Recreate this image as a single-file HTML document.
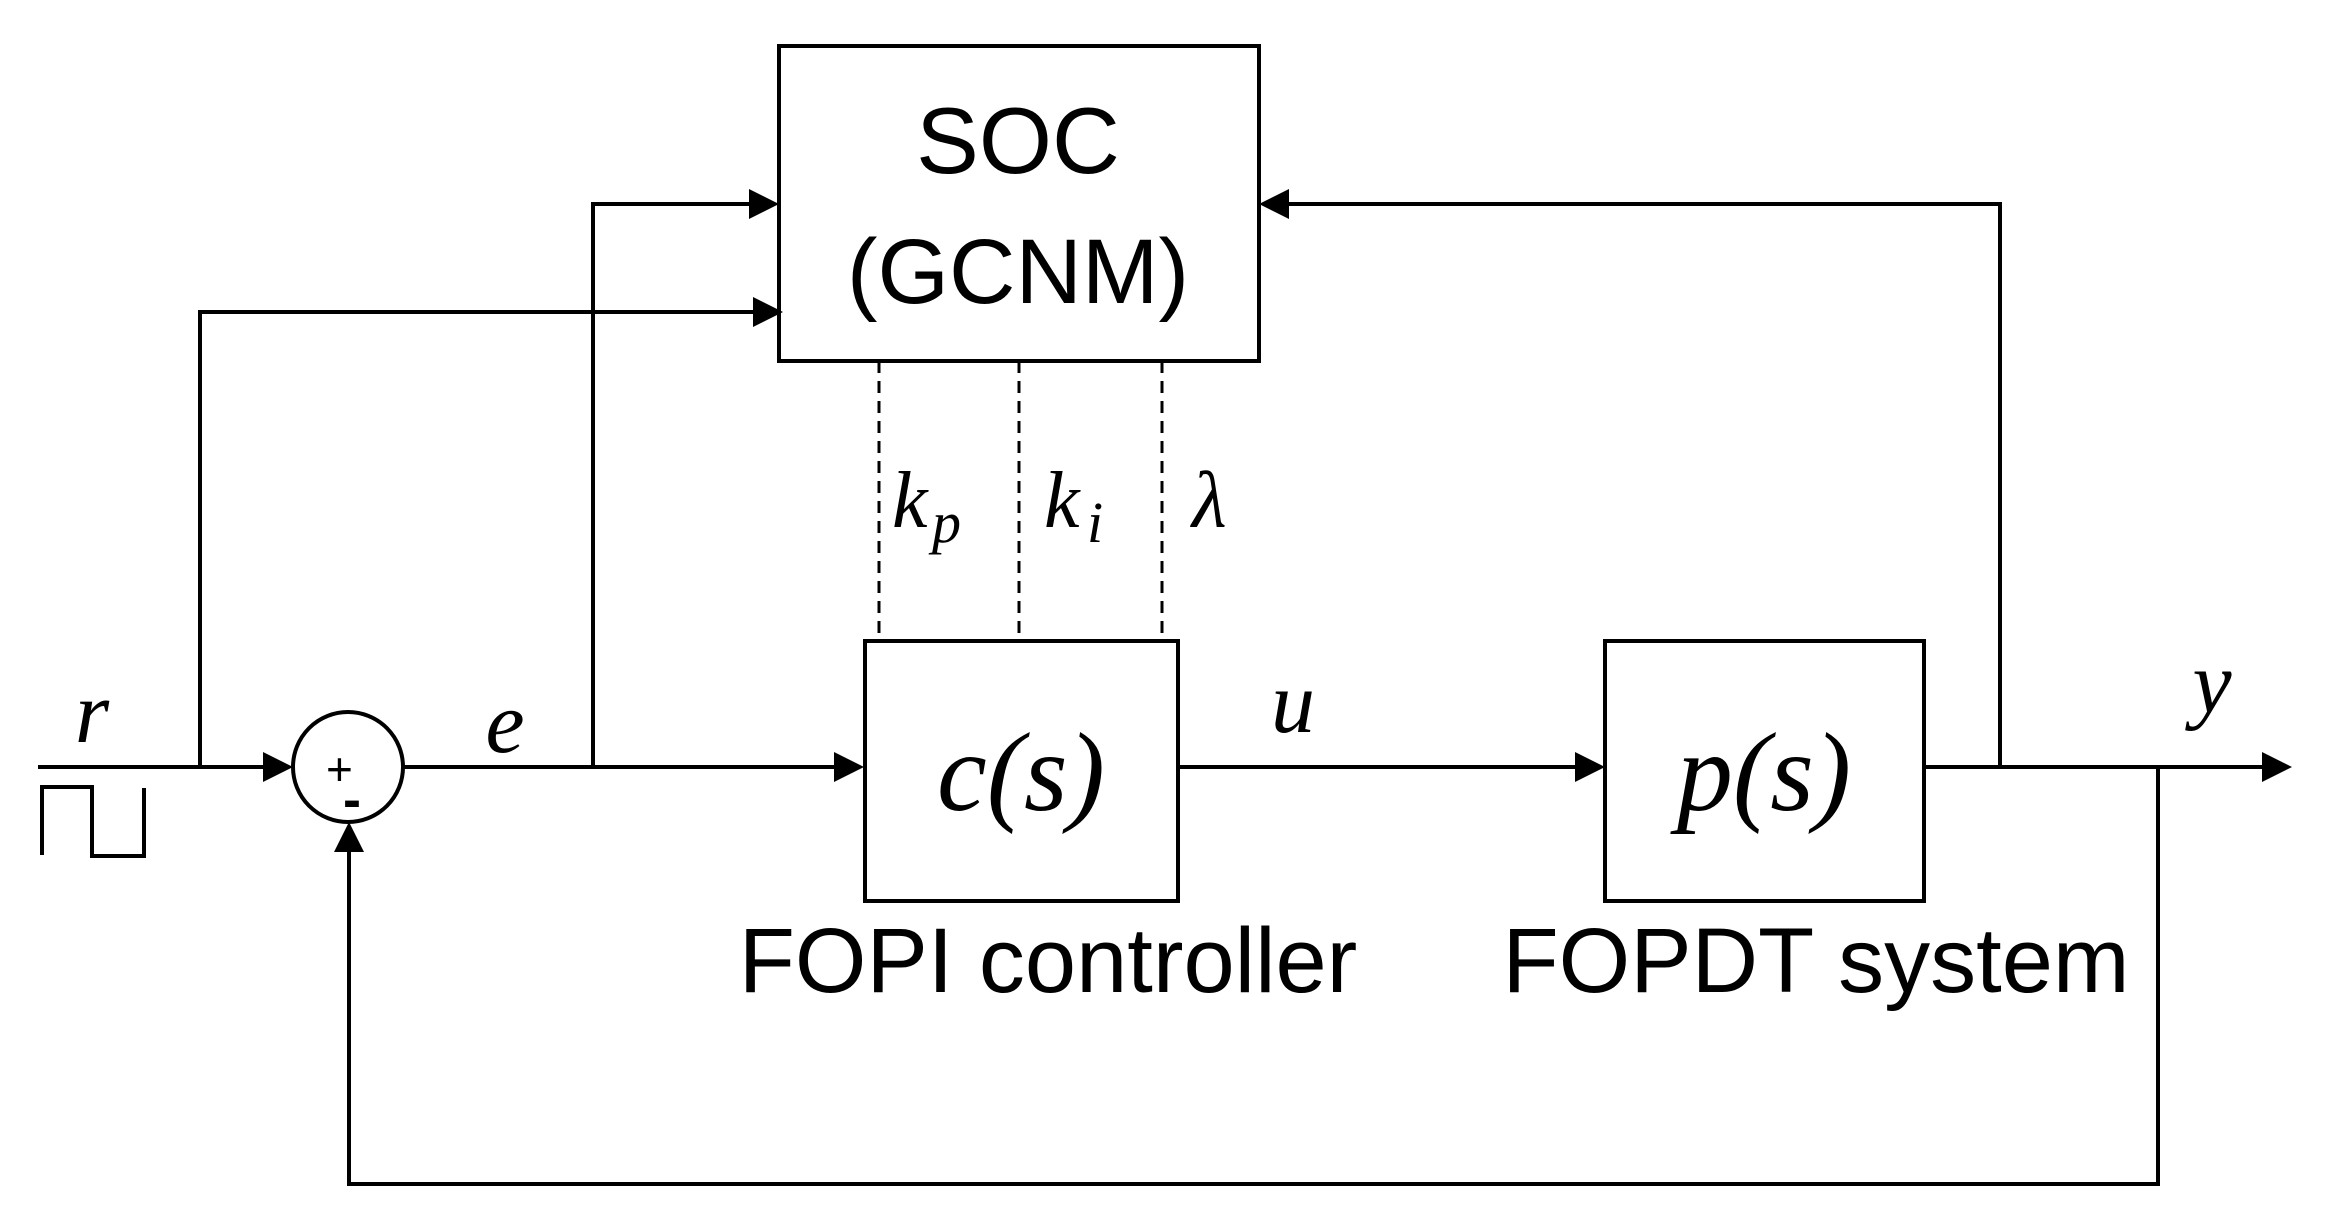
<!DOCTYPE html>
<html><head><style>
html,body{margin:0;padding:0;background:#fff;}
svg{display:block;}
.m{font-family:"Liberation Serif",serif;font-style:italic;}
.s{font-family:"Liberation Sans",sans-serif;}
</style></head><body>
<svg width="2330" height="1230" viewBox="0 0 2330 1230" xmlns="http://www.w3.org/2000/svg">
<g stroke="#000" stroke-width="4" fill="none">
<rect x="779" y="46" width="480" height="315"/>
<rect x="865" y="641" width="313" height="260"/>
<rect x="1605" y="641" width="319" height="260"/>
<circle cx="348" cy="767" r="55"/>
<line x1="38" y1="767" x2="268" y2="767"/>
<line x1="403" y1="767" x2="845" y2="767"/>
<line x1="1178" y1="767" x2="1585" y2="767"/>
<line x1="1924" y1="767" x2="2265" y2="767"/>
<polyline points="200,767 200,312 759,312"/>
<polyline points="593,767 593,204 759,204"/>
<polyline points="2000,767 2000,204 1280,204"/>
<polyline points="2158,767 2158,1184 349,1184 349,848"/>
<polyline points="42,855 42,787 92,787 92,856 144,856 144,788"/>
<g stroke-dasharray="12,8" stroke-width="3">
<line x1="879" y1="361" x2="879" y2="641"/>
<line x1="1019" y1="361" x2="1019" y2="641"/>
<line x1="1162" y1="361" x2="1162" y2="641"/>
</g>
</g>
<g fill="#000">
<polygon points="293,767 263,752 263,782"/>
<polygon points="864,767 834,752 834,782"/>
<polygon points="1605,767 1575,752 1575,782"/>
<polygon points="2292,767 2262,752 2262,782"/>
<polygon points="779,204 749,189 749,219"/>
<polygon points="783,312 753,297 753,327"/>
<polygon points="1259,204 1289,189 1289,219"/>
<polygon points="349,822 334,852 364,852"/>
</g>
<text x="326" y="785" class="s" font-size="46">+</text>
<text x="343" y="818" class="s" font-size="54" font-weight="bold">-</text>
<text x="1018" y="173" class="s" font-size="94" text-anchor="middle">SOC</text>
<text x="1018" y="303" class="s" font-size="92" text-anchor="middle">(GCNM)</text>
<text x="1021" y="810" class="m" font-size="112" text-anchor="middle">c(s)</text>
<text x="1764" y="810" class="m" font-size="112" text-anchor="middle">p(s)</text>
<text x="1048" y="992" class="s" font-size="92" text-anchor="middle">FOPI controller</text>
<text x="1816" y="992" class="s" font-size="92" text-anchor="middle">FOPDT system</text>
<text x="92" y="742" class="m" font-size="88" text-anchor="middle">r</text>
<text x="505" y="752" class="m" font-size="88" text-anchor="middle">e</text>
<text x="1293" y="732" class="m" font-size="88" text-anchor="middle">u</text>
<text x="2212" y="712" class="m" font-size="88" text-anchor="middle">y</text>
<text x="892" y="527" class="m" font-size="80">k</text>
<text x="932" y="542" class="m" font-size="58">p</text>
<text x="1044" y="527" class="m" font-size="80">k</text>
<text x="1087" y="542" class="m" font-size="58">i</text>
<text x="1192" y="527" class="m" font-size="80">λ</text>
</svg>
</body></html>
